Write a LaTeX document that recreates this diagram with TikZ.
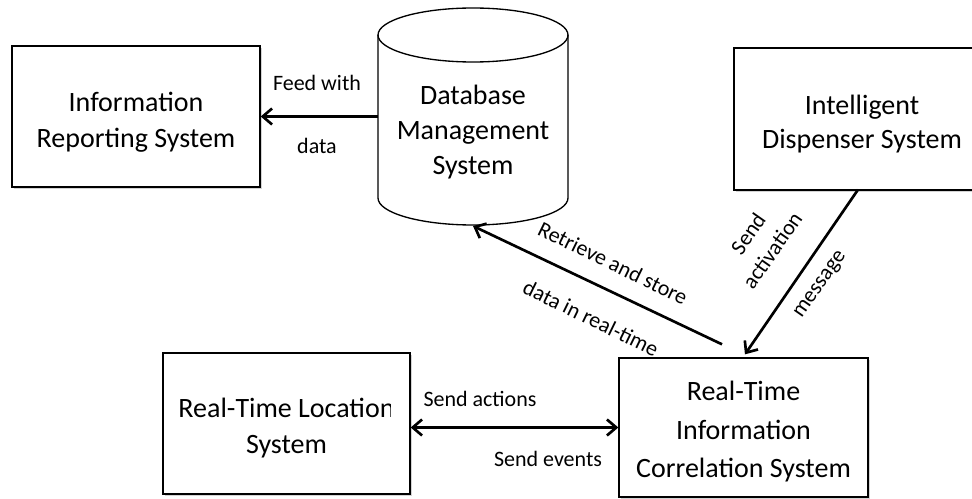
\documentclass[tikz,border=0pt]{standalone}
\usepackage{fontspec}
\setmainfont{Carlito}
\usetikzlibrary{arrows.meta,shadows}

\tikzset{every picture/.style={line width=0.75pt}}
\tikzset{
  sysbox/.style={draw, line width=1pt, fill=white, align=center,
    minimum width=186pt, minimum height=105.75pt,
    font=\fontsize{21}{26.5}\selectfont,
    drop shadow={shadow xshift=1.2pt, shadow yshift=-1.2pt, opacity=0.35}},
  flowlabel/.style={inner sep=0.75pt, align=center, font=\fontsize{16.5}{22}\selectfont},
  flow/.style={line width=2pt, -{Straight Barb[length=7pt,width=12pt]}},
}

\begin{document}
\begin{tikzpicture}[x=0.75pt,y=0.75pt,yscale=-1,xscale=1]
\useasboundingbox (0,0) rectangle (972,499);

%Shape: Rectangle [Information Reporting System]
\node (irs) [sysbox] at (136,116.5) {\rule{0pt}{23pt}Information\\Reporting System};
%Shape: Rectangle [Intelligent Dispenser System]
\node (ids) [sysbox, minimum width=192pt, minimum height=106.5pt, font=\fontsize{21}{25.5}\selectfont] at (862,119) {\rule{0pt}{22pt}Intelligent\\Dispenser System};
%Shape: Rectangle [Real-Time Location System]
\node (rtls) [sysbox, minimum width=185.25pt] at (286.5,423.5) {};
\begin{scope}
\clip (rtls.north west) rectangle ([xshift=-15.5pt]rtls.south east);
\node (rtls-text) [align=center, font=\fontsize{21}{26.5}\selectfont] at (286.5,428) {Real-Time Location\\System};
\end{scope}
%Shape: Rectangle [Real-Time Information Correlation System]
\node (rtics) [sysbox, minimum width=186.75pt, minimum height=104.25pt, font=\fontsize{21}{29}\selectfont] at (743.5,427.5) {\rule{0pt}{21pt}Real-Time\\Information\\Correlation System};

%Shape: Can [Database Management System]
\node (dbms) [minimum width=142.5pt, minimum height=122.25pt, outer sep=0pt, inner sep=0pt] at (473,116.5) {};
\draw [line width=1pt] (dbms.north west) -- (dbms.south west) arc [start angle=180, end angle=0, x radius=71.25pt, y radius=20.25pt] -- (dbms.north east);
\draw [line width=1pt] (dbms.north) ellipse [x radius=71.25pt, y radius=20.25pt];
\node (dbms-text) [align=center, font=\fontsize{21}{26.5}\selectfont] at (473,132) {Database\\Management\\System};

%Straight Lines [feed]
\draw [flow] (dbms.west) -- (irs.east);
%Straight Lines [retrieve]
\draw [flow] ([xshift=-16.1pt,yshift=-9.75pt]rtics.north) -- ([yshift=21pt]dbms.south);
%Straight Lines [activation]
\draw [flow] ([xshift=-3pt,yshift=-0.75pt]ids.south) -- ([xshift=1.1pt,yshift=-2.25pt]rtics.north);
%Straight Lines [actions / events]
\draw [flow, {Straight Barb[length=7pt,width=12pt]}-{Straight Barb[length=7pt,width=12pt]}] (rtls.east |- rtics.west) -- (rtics.west);

% Text Node
\node (lfeed) [flowlabel] at (317,83) {Feed with};
% Text Node
\node (ldata) [flowlabel] at (317,146) {data};
% Text Node
\node (lretrieve) [flowlabel, rotate=-26] at (613,263) {Retrieve and store};
% Text Node
\node (lrealtime) [flowlabel, rotate=-26] at (591,318) {data in real-time};
% Text Node
\node (lactivation) [flowlabel, rotate=55] at (760,242) {Send\\activation};
% Text Node
\node (lmessage) [flowlabel, rotate=55] at (821,285) {message};
% Text Node
\node (lactions) [flowlabel] at (480,399) {Send actions};
% Text Node
\node (levents) [flowlabel] at (548,459) {Send events};

\end{tikzpicture}
\end{document}
